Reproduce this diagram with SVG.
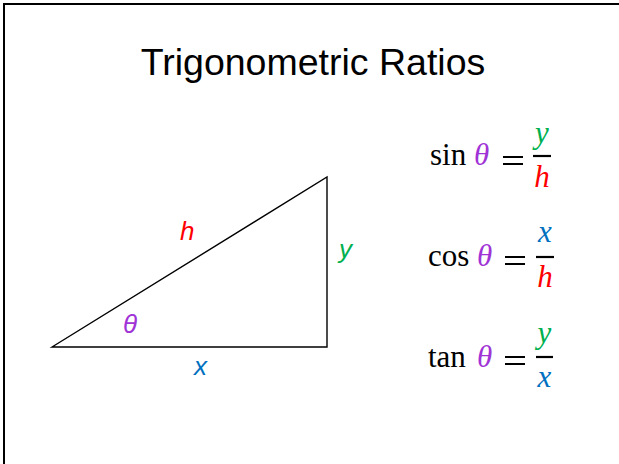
<svg xmlns="http://www.w3.org/2000/svg" width="619" height="464" viewBox="0 0 619 464">
<style>
.frame{fill:#fff;stroke:#000;stroke-width:2}
.tri{fill:none;stroke:#000;stroke-width:1.4;stroke-linejoin:miter}
.title{font-family:"Liberation Sans",Arial,sans-serif;font-size:37.5px;fill:#000}
.lbl{font-family:"Liberation Sans",Arial,sans-serif;font-style:italic;font-size:26px}
.fn{font-family:"Liberation Serif","Times New Roman",serif;font-size:31px;fill:#000}
.var{font-family:"Liberation Serif","Times New Roman",serif;font-style:italic;font-size:31px}
.eq{stroke:#000;stroke-width:2}
.bar{stroke:#000;stroke-width:2.2}
.r{fill:#FF0000}.g{fill:#00B050}.b{fill:#0070C0}.p{fill:#A033D6}
</style>
<rect class="frame" x="4" y="4" width="640" height="490"/>
<text class="title" x="313" y="75" text-anchor="middle">Trigonometric Ratios</text>
<g id="triangle">
<polygon class="tri" points="52,347 327,177 327,347"/>
<text class="lbl r" x="180" y="240">h</text>
<text class="lbl g" x="339" y="258">y</text>
<text class="lbl p" x="123" y="333">θ</text>
<text class="lbl b" x="194" y="375">x</text>
</g>
<g id="sin">
<text class="fn" x="430" y="165">sin</text>
<text class="var p" x="474" y="165">θ</text>
<line class="eq" x1="503" y1="157" x2="523" y2="157"/><line class="eq" x1="503" y1="164" x2="523" y2="164"/>
<line class="bar" x1="533" y1="156" x2="551" y2="156"/>
<text class="var g" x="542" y="143" text-anchor="middle">y</text>
<text class="var r" x="542" y="187" text-anchor="middle">h</text>
</g>
<g id="cos">
<text class="fn" x="428" y="266">cos</text>
<text class="var p" x="477" y="266">θ</text>
<line class="eq" x1="505" y1="257" x2="525" y2="257"/><line class="eq" x1="505" y1="264" x2="525" y2="264"/>
<line class="bar" x1="536" y1="257" x2="554" y2="257"/>
<text class="var b" x="545" y="242" text-anchor="middle">x</text>
<text class="var r" x="545" y="287" text-anchor="middle">h</text>
</g>
<g id="tan">
<text class="fn" x="428" y="367">tan</text>
<text class="var p" x="477" y="367">θ</text>
<line class="eq" x1="505" y1="357" x2="525" y2="357"/><line class="eq" x1="505" y1="364" x2="525" y2="364"/>
<line class="bar" x1="536" y1="357" x2="553" y2="357"/>
<text class="var g" x="544.5" y="343" text-anchor="middle">y</text>
<text class="var b" x="544.5" y="387" text-anchor="middle">x</text>
</g>
</svg>
